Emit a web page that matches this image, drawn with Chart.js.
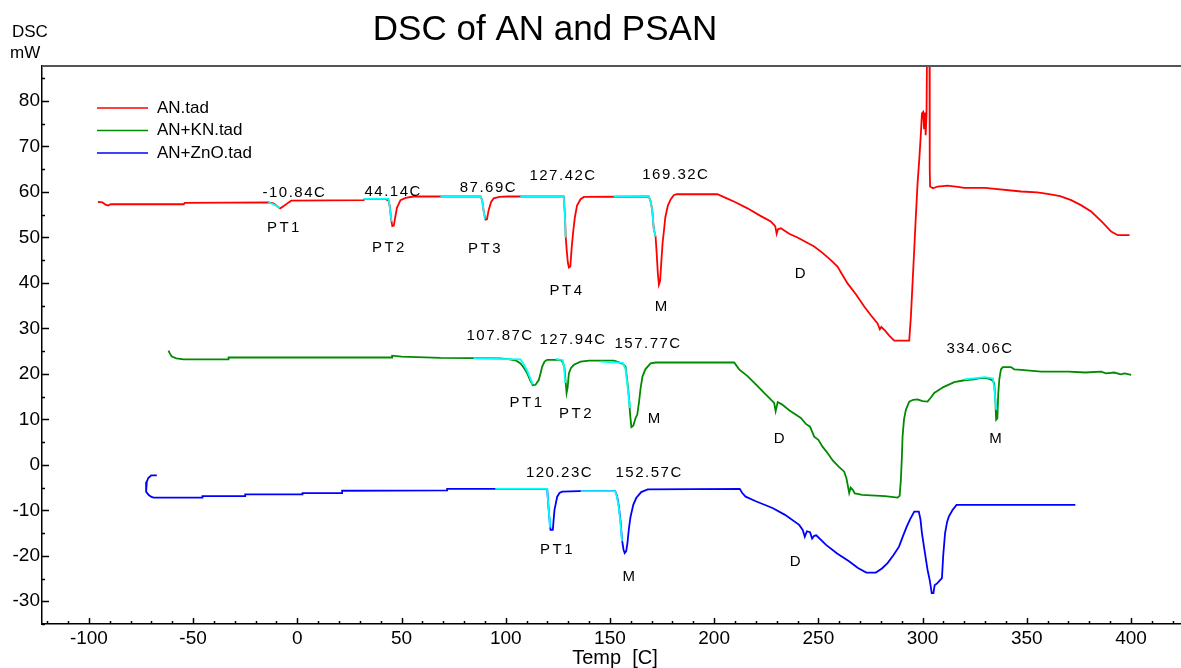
<!DOCTYPE html>
<html>
<head>
<meta charset="utf-8">
<script src="https://cdn.jsdelivr.net/npm/chart.js@4"></script>
<style>
  body { margin: 0; background: #fff; }
  #wrap { width: 1181px; height: 668px; }
</style>
</head>
<body>
<div id="wrap"><canvas id="dsc" width="1181" height="668"></canvas></div>
<script>
// series: [temp C, DSC mW]
const anPoints = [
  [-95.7, 57.8], [-93.5, 57.7], [-92, 57.2], [-90.8, 57.0], [-89.5, 57.3], [-54.5, 57.3], [-54, 57.6],
  [-13.9, 57.7], [-11.5, 57.5], [-9.5, 56.8], [-8.2, 56.4], [-6.5, 56.9], [-4.5, 57.6], [-3.4, 57.9],
  [-3, 58.1], [31.8, 58.2], [32.5, 58.5], [42, 58.5], [43.8, 58.1], [44.5, 56.5], [45, 54.0], [45.6, 52.5],
  [46.3, 52.6], [47, 54.5], [47.8, 56.5], [49.5, 58.2], [52, 58.7], [55.7, 59.0], [87.9, 59.0], [88.7, 58.2],
  [89.5, 55.5], [90.3, 53.9], [91, 54.0], [91.8, 56.0], [93, 57.8], [94.2, 58.6], [97, 58.9], [100.9, 59.0],
  [127.8, 59.0], [128.4, 55.0], [128.8, 50.0], [129.3, 47.0], [129.8, 44.5], [130.3, 43.4], [131, 43.6],
  [131.6, 47.5], [132.3, 51.0], [133.2, 54.5], [134.2, 57.0], [135.9, 58.4], [137.5, 58.9], [168.6, 59.0],
  [169.5, 58.0], [170.3, 56.0], [171, 52.0], [171.9, 50.2], [172.5, 46.0], [173, 42.0], [173.5, 39.6],
  [174.1, 40.5], [174.7, 45.0], [175.3, 49.0], [175.8, 51.0], [176.6, 54.5], [177.8, 57.0], [179.2, 58.4],
  [180.6, 59.3], [182, 59.5], [201.6, 59.5], [205, 58.8], [210, 57.8], [216, 56.4], [222, 54.8], [227.2, 53.5],
  [229.3, 52.5], [230, 50.8], [230.6, 51.8], [232, 52.0], [236, 50.8], [240, 50.0], [244, 49.0], [248, 48.0],
  [252, 46.6], [256, 45.0], [259.2, 43.6], [261, 42.2], [264, 39.9], [268, 37.5], [272, 34.8], [275, 33.0],
  [278.4, 31.1], [279.5, 29.8], [280.2, 30.3], [282, 29.5], [284, 28.4], [286.4, 27.3], [293.6, 27.3],
  [294.4, 32.6], [295.2, 40.0], [296, 47.3], [296.6, 53.0], [297.6, 61.9], [298.4, 67.0], [299.2, 72.9],
  [299.7, 77.3], [300.3, 77.6], [300.7, 74.0], [301.1, 77.5], [301.5, 72.5], [301.9, 77.0], [302.2, 95],
  [303.3, 95], [303.4, 77.5], [303.5, 65.0], [303.6, 61.2], [305, 60.8], [307.2, 61.2], [312, 61.4],
  [316.9, 61.1], [320, 60.9], [330, 60.9], [347.3, 60.1], [355, 59.9], [360, 59.6], [366, 59.1],
  [371.3, 58.2], [376, 57.1], [380.9, 55.7], [386, 53.5], [390.5, 51.3], [393.7, 50.5], [399.3, 50.5]
];

const knPoints = [
  [-61.8, 25.1], [-61.2, 24.5], [-60.2, 23.8], [-58, 23.4], [-54.6, 23.2], [-33, 23.2], [-33, 23.6],
  [45.5, 23.6], [45.5, 24.0], [50, 23.8], [68.7, 23.5], [97.5, 23.4], [102, 23.2], [105, 22.9],
  [107.1, 22.3], [108.8, 21.3], [110.3, 20.1], [111.8, 18.5], [113, 17.5], [114.3, 17.6], [115.9, 18.7],
  [116.8, 20.3], [117.5, 21.6], [118.6, 22.7], [119.9, 23.1], [126.3, 23.1], [127.4, 22.6], [128.2, 21.2],
  [128.7, 18.5], [129.2, 15.8], [129.7, 17.0], [130.3, 20.1], [131.3, 21.3], [132.7, 22.0], [135.9, 22.7],
  [140, 22.9], [151.9, 22.9], [154, 22.6], [156.2, 22.2], [157.5, 21.6], [158.3, 18.5], [159.1, 15.0],
  [159.7, 11.0], [160.3, 8.3], [161.2, 8.6], [162.3, 10.3], [163.1, 11.0], [163.9, 13.6], [164.7, 16.8],
  [165.6, 19.4], [167, 21.0], [169.5, 22.3], [172, 22.5], [209.6, 22.5], [212, 21.0], [216, 19.5],
  [220, 17.7], [224, 15.8], [228.8, 13.6], [229.5, 11.8], [230.5, 13.8], [232.5, 13.3], [236, 12.0],
  [241.6, 10.3], [244, 9.0], [246, 8.4], [248, 6.2], [250, 5.5], [252, 4.0], [254.4, 2.6], [257, 0.9],
  [260, -0.5], [262.4, -1.5], [263.5, -3.0], [264.8, -6.2], [265.5, -5.0], [266.5, -5.5], [267.5, -6.3],
  [268.8, -6.4], [271, -6.6], [275.2, -6.7], [282, -6.9], [288, -7.2], [289, -6.8], [289.6, -3.3],
  [290.1, 2.0], [290.4, 6.2], [291.1, 10.0], [292, 12.1], [293.6, 13.9], [295.5, 14.3], [297.6, 14.4],
  [300, 14.0], [302.4, 13.9], [304, 14.8], [305.6, 15.8], [310, 17.1], [315.2, 18.2], [320, 18.6],
  [324.8, 18.8], [328, 19.1], [331.3, 19.0], [333.4, 18.6], [334.4, 18.0], [334.9, 14.5], [335.3, 9.9],
  [335.9, 10.2], [336.3, 15.5], [336.8, 18.7], [337.6, 21.0], [338.5, 21.5], [342.4, 21.5], [344, 21.0],
  [347.3, 20.9], [356.9, 20.5], [370, 20.5], [378, 20.3], [385.7, 20.5], [388, 20.1], [392, 20.3],
  [395, 19.9], [397, 20.1], [400.1, 19.8]
];

const znPoints = [
  [-67.4, -2.3], [-70.1, -2.3], [-71.5, -2.9], [-72.2, -3.7], [-72.6, -4.8], [-72.5, -5.9], [-71.4, -6.6],
  [-70.2, -7.0], [-69, -7.2], [-45.5, -7.2], [-45.5, -6.9], [-25, -6.9], [-25, -6.5], [2.5, -6.5],
  [2.5, -6.2], [21.5, -6.2], [21.5, -5.7], [71.9, -5.6], [71.9, -5.3], [119.9, -5.3], [120.3, -8.0],
  [120.9, -11.5], [121.5, -14.3], [122.6, -14.3], [123, -12.0], [123.4, -9.9], [124.7, -7.0], [125.8, -6.2],
  [127.1, -5.9], [135, -5.8], [152.5, -5.8], [153.4, -6.8], [154.3, -9.2], [155.1, -12.5], [155.8, -16.5],
  [156.5, -18.6], [157.1, -19.4], [157.8, -19.0], [158.4, -17.2], [159.1, -14.0], [159.9, -11.4],
  [161.2, -8.8], [162.6, -7.3], [165, -6.0], [168.1, -5.4], [212.3, -5.3], [213.5, -6.2], [215.1, -7.0],
  [220, -8.0], [228, -9.5], [234, -11.0], [240.8, -13.2], [242.5, -14.3], [243.5, -15.8], [244.5, -14.6],
  [246, -14.8], [247, -16.2], [248, -15.6], [249, -15.5], [253.7, -17.6], [259, -19.5], [264.7, -21.2],
  [269, -22.7], [273, -23.7], [277.6, -23.7], [280.5, -22.8], [283.2, -21.6], [286, -19.9], [288.7, -18.0],
  [290.5, -15.8], [292.4, -13.6], [294, -12.0], [296, -10.3], [298.2, -10.3], [299, -12.0], [299.7, -15.0],
  [301, -19.0], [302.4, -23.1], [303.5, -25.5], [304.4, -28.2], [305.2, -28.2], [305.8, -26.5],
  [307.1, -26.0], [309.3, -24.9], [309.9, -20.0], [310.8, -15.0], [311.8, -12.5], [312.6, -11.4],
  [314.3, -10.0], [316.3, -8.8], [373.3, -8.8]
];

// cyan baseline / onset constructions, null breaks the line
const basePoints = [
  [-13.9, 57.7], [-11.5, 57.3], [-9.5, 56.8], [-8.5, 56.5], null,
  [31.8, 58.5], [43.8, 58.5], [44.4, 56.5], [45.2, 53.5], null,
  [68.7, 59.0], [87.9, 59.0], [88.7, 58.2], [89.5, 55.5], [90, 54.0], null,
  [107, 59.0], [127.8, 59.0], [128.4, 55.0], [128.7, 50.0], null,
  [151.8, 59.0], [168.6, 59.0], [169.5, 58.0], [170.3, 56.0], [171, 52.0], [171.9, 50.2], null,
  [84.5, 23.4], [107.1, 23.2], [108.8, 22.0], [110.5, 20.5], [112, 18.8], [113, 17.7], null,
  [124, 23.3], [127.4, 23.0], [128, 21.5], [128.6, 18.0], null,
  [145.5, 22.7], [156.2, 22.4], [157.5, 21.0], [158.3, 18.0], [159.2, 14.0], [159.5, 12.5], null,
  [320, 18.8], [330, 19.3], [333.8, 19.0], [334.6, 16.0], [335.4, 12.1], null,
  [95, -5.3], [119.9, -5.3], [120.3, -8.0], [120.9, -11.5], [121.2, -13.8], null,
  [136, -5.8], [152.5, -5.8], [153.4, -7.0], [154.3, -9.5], [155.1, -13.0], [155.8, -16.8]
];

const seriesNames = ["AN.tad", "AN+KN.tad", "AN+ZnO.tad"];
const seriesColors = ["#ff0000", "#008a00", "#0000ff"];

// peak labels placed at data coords
const noteText = ["-10.84C", "PT1", "44.14C", "PT2", "87.69C", "PT3", "127.42C", "PT4", "169.32C", "M", "D",
  "107.87C", "PT1", "127.94C", "PT2", "157.77C", "M", "D", "334.06C", "M",
  "120.23C", "PT1", "152.57C", "M", "D"];
const noteX = [-1.4, -6.2, 46, 44.2, 91.7, 90.3, 127.5, 129.4, 181.6, 174.8, 241.6,
  97.3, 110.2, 132.3, 134, 168.3, 171.5, 231.5, 327.6, 335.3,
  125.8, 124.9, 168.8, 159.4, 239.2];
const noteY = [59.8, 52, 60, 47.8, 61, 47.5, 63.5, 38.2, 63.7, 34.7, 42,
  28.4, 13.7, 27.5, 11.2, 26.7, 10.2, 5.8, 25.4, 5.8,
  -1.8, -18.7, -1.8, -24.7, -21.3];

const xRange = [-122.5, 424];
const yRange = [-35, 87.7];

const narrow = "'Liberation Sans Narrow', 'Liberation Sans', Arial, sans-serif";
const sans = "'Liberation Sans', Arial, sans-serif";

const toXY = (p) => (p ? { x: p[0], y: p[1] } : { x: null, y: null });

const decor = {
  id: "decor",
  afterDraw(chart) {
    const { ctx, chartArea: a } = chart;
    const xs = chart.scales.x;
    const ys = chart.scales.y;
    ctx.save();

    // frame top line
    ctx.strokeStyle = "#555";
    ctx.lineWidth = 2;
    ctx.beginPath();
    ctx.moveTo(a.left, a.top);
    ctx.lineTo(a.right, a.top);
    ctx.stroke();

    // inward ticks
    ctx.strokeStyle = "#000";
    ctx.lineWidth = 1.5;
    for (let v = -120; v <= 420; v += 10) {
      const px = Math.round(xs.getPixelForValue(v)) + 0.5;
      const len = v % 50 === 0 ? 6 : 3;
      ctx.beginPath();
      ctx.moveTo(px, a.bottom);
      ctx.lineTo(px, a.bottom - len);
      ctx.stroke();
    }
    for (let v = -35; v <= 85; v += 5) {
      const py = Math.round(ys.getPixelForValue(v)) + 0.5;
      const len = v % 10 === 0 ? 7 : 3;
      ctx.beginPath();
      ctx.moveTo(a.left, py);
      ctx.lineTo(a.left + len, py);
      ctx.stroke();
    }

    // title and axis names
    ctx.fillStyle = "#000";
    ctx.textAlign = "center";
    ctx.textBaseline = "alphabetic";
    ctx.font = "35px " + sans;
    ctx.fillText("DSC of AN and PSAN", 545, 40);
    ctx.font = "20px " + narrow;
    ctx.fillText("Temp  [C]", 615, 664);
    ctx.textAlign = "left";
    ctx.font = "17px " + sans;
    ctx.fillText("DSC", 12, 37);
    ctx.fillText("mW", 10, 58);

    // legend
    ctx.textBaseline = "middle";
    ctx.font = "17px " + sans;
    seriesNames.forEach((name, i) => {
      const ly = 108 + i * 22.5;
      ctx.strokeStyle = seriesColors[i];
      ctx.lineWidth = 1.5;
      ctx.beginPath();
      ctx.moveTo(97, ly);
      ctx.lineTo(148, ly);
      ctx.stroke();
      ctx.fillStyle = "#000";
      ctx.fillText(name, 157, ly);
    });

    // peak labels
    ctx.textAlign = "center";
    ctx.font = "15px " + sans;
    noteText.forEach((t, i) => {
      ctx.letterSpacing = t.startsWith("PT") ? "2.5px" : "1.5px";
      ctx.fillText(t, xs.getPixelForValue(noteX[i]), ys.getPixelForValue(noteY[i]));
    });
    ctx.restore();
  }
};

const lineStyle = { showLine: true, pointRadius: 0, borderWidth: 1.8, fill: false, order: 1 };

new Chart(document.getElementById("dsc"), {
  type: "scatter",
  data: {
    datasets: [
      { label: "baseline", data: basePoints.map(toXY), borderColor: "#00ffff", showLine: true,
        pointRadius: 0, borderWidth: 1.8, spanGaps: false, order: 0 },
      { ...lineStyle, label: seriesNames[0], data: anPoints.map(toXY), borderColor: seriesColors[0] },
      { ...lineStyle, label: seriesNames[1], data: knPoints.map(toXY), borderColor: seriesColors[1] },
      { ...lineStyle, label: seriesNames[2], data: znPoints.map(toXY), borderColor: seriesColors[2] }
    ]
  },
  options: {
    responsive: false,
    animation: false,
    layout: { padding: { top: 66, right: 0, left: 0, bottom: 0 } },
    plugins: { legend: { display: false }, tooltip: { enabled: false } },
    scales: {
      x: {
        type: "linear",
        min: xRange[0],
        max: xRange[1],
        grid: { display: false, drawTicks: false },
        border: { display: true, color: "#000", width: 1.5 },
        ticks: { stepSize: 50, includeBounds: false, padding: 3, color: "#000", font: { size: 19, family: narrow } },
        afterFit: (s) => { s.height = 44; }
      },
      y: {
        min: yRange[0],
        max: yRange[1],
        grid: { display: false, drawTicks: false },
        border: { display: true, color: "#000", width: 1.5 },
        ticks: { stepSize: 10, includeBounds: false, padding: 2, color: "#000", font: { size: 19, family: narrow } },
        afterFit: (s) => { s.width = 42; }
      }
    }
  },
  plugins: [decor]
});
</script>
</body>
</html>
